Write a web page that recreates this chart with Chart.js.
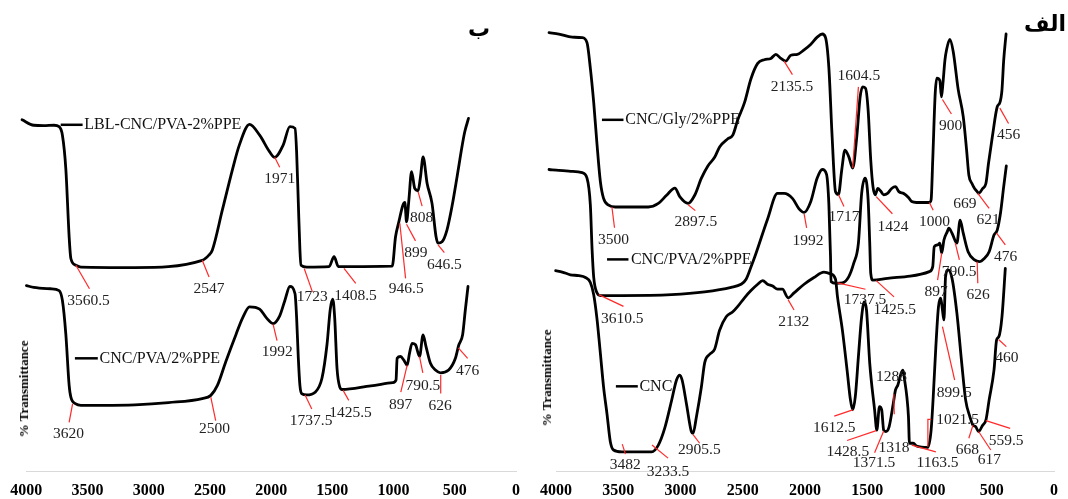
<!DOCTYPE html>
<html>
<head>
<meta charset="utf-8">
<script src="https://cdn.jsdelivr.net/npm/chart.js@4.4.1/dist/chart.umd.min.js"></script>
<style>
  html, body { margin: 0; padding: 0; background: #fff; }
  #wrap { position: relative; width: 1068px; height: 499px; overflow: hidden; }
  canvas { position: absolute; top: 0; }
  #chartB { left: 0; }
  #chartA { left: 530px; }
  .ylab { position: absolute; font: bold 13px 'Liberation Serif', serif; white-space: nowrap;
          transform: translate(-50%, -50%) rotate(-90deg); color: #000; }
  .tag { position: absolute; font: bold 22px 'DejaVu Sans', sans-serif; direction: rtl;
         transform: translate(-50%, -50%); color: #000; }
</style>
</head>
<body>
<div id="wrap">
  <canvas id="chartB" width="530" height="499"></canvas>
  <canvas id="chartA" width="538" height="499"></canvas>
  <div class="ylab" style="left:24px; top:389px">% Transmittance</div>
  <div class="ylab" style="left:547px; top:378px">% Transmittance</div>
  <div class="tag" style="left:479px; top:28px">ب</div>
  <div class="tag" style="left:1045px; top:23px">الف</div>
</div>
<script>
// ---- wavenumber axis ----
const waveTicks = [4000, 3500, 3000, 2500, 2000, 1500, 1000, 500, 0];

// ---- panel ب (left) ----
const lblWave = [4035,3939,3857,3773,3732,3705,3677,3650,3636,3595,3554,3115,2563,2507,2480,2398,2315,2260,2177,2094,2012,1971,1902,1847,1805,1792,1778,1765,1756,1709,1527,1486,1451,1011,984,957,924,908,894,875,853,827,800,780,759,726,686,653,637,604,564,523,468,446,419,388];
const lblT    = [77.9,76.7,76.6,76.7,76.4,74.5,67.0,52.0,47.2,45.7,45.3,45.2,46.8,48.0,49.1,58.0,67.0,72.3,76.9,74.5,70.8,69.6,72.3,76.4,76.0,70.8,59.5,49.1,45.7,45.3,45.4,47.6,45.4,45.5,52.0,55.3,59.0,59.6,55.3,60.2,66.4,62.7,62.2,65.3,69.7,63.8,59.4,52.0,50.6,50.9,53.5,58.7,67.5,71.2,75.2,78.2];

const pvaWave = [3999,3939,3801,3732,3705,3677,3650,3636,3595,3554,3380,3113,2838,2563,2493,2439,2370,2287,2232,2177,2094,2040,1984,1930,1888,1847,1805,1792,1778,1765,1751,1709,1641,1585,1544,1517,1497,1481,1462,1440,1420,1186,1007,980,971,943,916,889,870,849,821,788,759,735,699,658,617,550,495,468,436,414,392];
const pvaT    = [41.2,40.8,40.5,40.1,37.9,30.4,19.1,16.5,15.0,14.7,14.7,14.8,15.3,16.2,16.9,19.1,24.4,30.4,34.1,36.5,36.0,34.1,32.8,34.5,37.9,41.0,39.4,34.1,25.1,19.1,17.3,17.0,17.6,20.7,28.1,36.0,38.2,34.1,22.9,18.8,18.2,19.0,19.7,20.3,25.1,25.5,24.7,23.6,26.2,28.4,28.1,25.5,30.3,27.7,24.0,22.5,21.9,22.5,25.1,28.0,30.3,35.8,41.0];

// ---- panel الف (right) ----
const glyWave = [4056,3977,3870,3790,3751,3724,3697,3671,3644,3618,3577,3524,3259,3178,3112,3045,3006,2939,2886,2832,2780,2726,2686,2620,2580,2540,2486,2434,2380,2327,2274,2234,2194,2154,2114,2061,2007,1955,1902,1861,1835,1808,1782,1755,1731,1705,1679,1648,1617,1584,1557,1537,1514,1493,1472,1454,1436,1415,1394,1368,1337,1304,1273,1246,1207,1169,1143,1104,1001,987,974,954,941,917,904,892,876,863,837,810,770,729,702,684,659,638,617,606,573,547,526,495,456,435,418,404,385];
const glyT    = [97.2,96.9,96.2,96.1,95.0,89.3,81.7,72.6,64.3,60.5,59.0,58.6,58.6,59.4,61.2,62.8,60.9,59.4,61.2,65.0,67.7,69.6,71.9,73.7,74.5,77.9,81.7,87.0,90.4,91.2,91.5,92.4,91.5,90.9,92.2,92.4,93.4,94.6,96.2,96.9,96.1,89.3,74.1,62.0,61.4,66.8,71.2,69.7,67.2,74.2,83.0,85.2,84.9,80.1,69.0,63.1,61.3,62.7,62.2,61.3,61.6,62.7,63.1,62.0,61.6,60.7,59.8,59.6,59.6,60.2,69.0,83.8,87.1,86.6,83.0,86.0,91.1,93.4,95.7,93.1,84.7,78.6,71.2,65.7,63.8,62.7,62.0,61.6,62.7,63.8,68.3,74.2,80.8,81.7,84.5,91.1,96.9];

const pva2Wave = [4056,3977,3870,3790,3751,3724,3710,3697,3671,3644,3471,3072,2806,2593,2514,2473,2434,2394,2301,2221,2168,2101,2048,2007,1955,1902,1861,1827,1808,1795,1791,1752,1700,1648,1609,1571,1545,1518,1493,1480,1472,1454,1337,1156,1001,974,962,935,917,902,884,858,845,819,780,754,729,690,638,599,560,521,482,456,430,404,383];
const pva2T    = [66.9,66.7,66.5,66.2,65.0,59.0,49.1,43.0,39.6,39.0,39.0,39.2,39.8,40.8,41.5,42.6,45.3,48.3,55.9,61.6,61.6,60.5,58.2,57.4,59.7,65.0,66.9,65.8,59.0,47.6,42.1,41.7,41.8,43.2,46.1,50.6,61.6,65.0,60.2,50.6,43.9,42.4,42.8,43.3,44.3,45.4,49.8,50.2,50.6,48.4,51.3,53.1,53.9,52.8,50.6,55.7,52.8,48.7,46.9,46.5,47.2,48.7,52.4,53.5,57.2,63.1,67.7];

const cncWave = [4003,3950,3884,3817,3764,3724,3697,3671,3644,3618,3590,3564,3538,3471,3338,3232,3178,3126,3072,3032,3006,2987,2952,2913,2899,2873,2832,2806,2766,2726,2686,2633,2580,2540,2486,2434,2380,2340,2301,2260,2221,2181,2136,2088,2007,1928,1848,1795,1755,1739,1700,1662,1635,1617,1596,1571,1545,1524,1506,1480,1441,1423,1402,1384,1368,1351,1324,1291,1273,1254,1228,1213,1200,1182,1169,1161,1130,1104,1013,987,970,949,928,910,896,884,871,850,819,780,741,710,676,651,630,606,573,547,521,482,461,443,418,391];
const cncT    = [44.5,44.2,43.6,43.4,43.0,41.9,39.2,33.9,26.3,18.8,12.7,6.7,4.8,4.4,4.4,4.4,5.9,9.7,15.7,20.3,21.4,20.3,15.0,8.9,8.5,12.0,18.8,24.1,26.0,27.1,31.3,34.3,35.4,36.6,38.5,40.1,41.5,42.3,41.5,41.1,40.4,40.4,38.5,39.6,41.5,43.0,44.2,43.8,42.6,38.7,31.4,22.5,15.9,13.7,16.6,25.5,34.3,37.6,35.8,24.0,13.7,9.2,14.4,13.7,9.2,8.9,10.0,15.1,18.1,19.2,21.8,22.5,20.3,16.6,12.2,6.3,6.3,5.7,5.4,9.2,16.6,27.7,36.5,38.4,35.8,33.6,43.2,44.7,42.8,35.1,24.0,15.9,12.2,10.3,10.0,8.9,10.3,11.4,15.9,22.5,29.2,29.9,34.3,45.0];

// series names: [text, line from, line to, text start, level]
const leftNames = [
  ['LBL-CNC/PVA-2%PPE', 3719, 3540, 3526, 76.8],
  ['CNC/PVA/2%PPE', 3603, 3416, 3402, 25.1]
];
const rightNames = [
  ['CNC/Gly/2%PPE', 3631, 3458, 3444, 77.9],
  ['CNC/PVA/2%PPE', 3590, 3418, 3398, 47.0],
  ['CNC', 3519, 3343, 3330, 18.9]
];

// peak labels: [text, red leader (wavenumber, level pairs), text centre]
const leftPeaks = [
  ['3560.5', [[3595,45.7],[3484,40.5]], [3492,37.9]],
  ['2547',   [[2563,46.8],[2507,43.1]], [2507,40.5]],
  ['1971',   [[1971,69.6],[1930,67.4]], [1930,64.8]],
  ['1723',   [[1730,45.0],[1663,39.8]], [1665,38.7]],
  ['1408.5', [[1405,45.0],[1309,41.7]], [1311,39.0]],
  ['946.5',  [[949,55.0],[902,42.8]],   [896,40.4]],
  ['899',    [[894,54.8],[821,51.1]],   [818,48.5]],
  ['808',    [[800,62.0],[767,58.8]],   [770,56.1]],
  ['646.5',  [[637,50.2],[585,48.5]],   [585,45.8]],
  ['3620',   [[3622,15.0],[3650,10.9]], [3655,8.3]],
  ['2500',   [[2493,16.5],[2453,11.3]], [2463,9.4]],
  ['1992',   [[1984,32.6],[1952,29.0]], [1950,26.6]],
  ['1737.5', [[1723,17.0],[1668,13.9]], [1673,11.3]],
  ['1425.5', [[1412,18.0],[1366,15.8]], [1352,13.0]],
  ['897',    [[889,23.6],[941,17.6]],   [943,14.7]],
  ['790.5',  [[788,25.5],[761,21.9]],   [761,19.1]],
  ['626',    [[615,21.4],[615,17.3]],   [619,14.5]],
  ['476',    [[471,27.4],[395,25.1]],   [395,22.3]]
];
const rightPeaks = [
  ['3500',   [[3551,58.6],[3530,54.0]], [3538,51.4]],
  ['2897.5', [[2939,59.1],[2881,57.8]], [2877,55.2]],
  ['2135.5', [[2168,90.9],[2101,87.9]], [2104,85.1]],
  ['1604.5', [[1617,67.2],[1571,85.2]], [1567,87.6]],
  ['1717',   [[1731,61.3],[1687,58.7]], [1687,56.3]],
  ['1424',   [[1428,60.9],[1298,57.1]], [1293,54.2]],
  ['1000',   [[1001,59.6],[970,57.9]],  [959,55.3]],
  ['900',    [[896,82.4],[824,79.2]],   [830,76.5]],
  ['669',    [],                        [715,59.3]],
  ['621',    [[612,61.6],[521,58.3]],   [530,55.7]],
  ['456',    [[435,80.5],[365,77.1]],   [365,74.5]],
  ['3610.5', [[3657,39.2],[3458,36.6]], [3468,33.9]],
  ['1992',   [[2007,57.1],[1987,54.0]], [1975,51.0]],
  ['1737.5', [[1739,41.8],[1514,40.4]], [1518,38.0]],
  ['1425.5', [[1428,42.3],[1285,38.7]], [1279,35.8]],
  ['897',    [[902,48.4],[935,42.4]],   [946,39.8]],
  ['790.5',  [[793,50.6],[760,46.9]],   [762,44.3]],
  ['626',    [[617,46.5],[612,41.7]],   [609,39.1]],
  ['476',    [[461,52.8],[391,50.2]],   [389,47.6]],
  ['3482',   [[3468,6.1],[3442,3.9]],   [3444,1.5]],
  ['3233.5', [[3229,5.9],[3100,3.0]],   [3100,0.0]],
  ['2905.5', [[2899,8.2],[2846,6.3]],   [2848,4.8]],
  ['2132',   [[2136,38.1],[2088,35.8]], [2091,33.2]],
  ['1612.5', [[1617,13.7],[1765,12.3]], [1765,9.6]],
  ['1428.5', [[1428,9.1],[1662,6.9]],   [1656,4.4]],
  ['1371.5', [[1368,9.0],[1441,4.2]],   [1446,1.9]],
  ['1318',   [],                        [1285,5.2]],
  ['1288',   [[1283,12.7],[1287,17.2]], [1306,21.0]],
  ['1163.5', [[1143,5.9],[949,4.4]],    [935,1.9]],
  ['1021.5', [[1013,5.5],[1013,11.6],[987,11.6]], [774,11.4]],
  ['899.5',  [[896,32.1],[798,20.3]],   [801,17.4]],
  ['668',    [[651,10.3],[684,7.4]],    [696,4.8]],
  ['617',    [[606,8.9],[508,4.8]],     [519,2.6]],
  ['559.5',  [[547,11.3],[352,9.6]],    [385,6.9]],
  ['460',    [[443,29.2],[383,27.7]],   [379,25.1]]
];

function toPoints(ws, ts) {
  return ws.map((w, i) => ({ x: w, y: ts[i] }));
}

// red leader lines, peak numbers and series names
const peakLabels = {
  id: 'peakLabels',
  afterDatasetsDraw(chart, args, opts) {
    const { ctx, scales: { x, y } } = chart;
    ctx.save();
    ctx.textBaseline = 'middle';

    opts.names.forEach(([txt, w0, w1, wt, v]) => {
      const py = y.getPixelForValue(v);
      ctx.strokeStyle = '#000';
      ctx.lineWidth = 2.5;
      ctx.beginPath();
      ctx.moveTo(x.getPixelForValue(w0), py);
      ctx.lineTo(x.getPixelForValue(w1), py);
      ctx.stroke();
      ctx.font = '16px "Liberation Serif", serif';
      ctx.textAlign = 'left';
      ctx.fillStyle = '#111';
      ctx.fillText(txt, x.getPixelForValue(wt), py);
    });

    ctx.font = '15.5px "Liberation Serif", serif';
    ctx.textAlign = 'center';
    opts.peaks.forEach(([txt, line, at]) => {
      if (line.length) {
        ctx.strokeStyle = '#ff2a2a';
        ctx.lineWidth = 1.2;
        ctx.beginPath();
        line.forEach(([w, v], i) => {
          const px = x.getPixelForValue(w), py = y.getPixelForValue(v);
          if (i) ctx.lineTo(px, py); else ctx.moveTo(px, py);
        });
        ctx.stroke();
      }
      ctx.fillStyle = '#222';
      ctx.fillText(txt, x.getPixelForValue(at[0]), y.getPixelForValue(at[1]));
    });
    ctx.restore();
  }
};

function buildPanel(id, series, peaks, names, pad) {
  return new Chart(document.getElementById(id), {
    type: 'line',
    data: {
      datasets: series.map(([w, t]) => ({
        data: toPoints(w, t),
        borderColor: '#000',
        borderWidth: 2.8,
        borderJoinStyle: 'round',
        borderCapStyle: 'round',
        pointRadius: 0,
        cubicInterpolationMode: 'monotone',
        fill: false,
        clip: false
      }))
    },
    options: {
      responsive: false,
      animation: false,
      devicePixelRatio: 1,
      layout: { padding: pad },
      plugins: {
        legend: { display: false },
        tooltip: { enabled: false },
        peakLabels: { peaks, names }
      },
      scales: {
        x: {
          type: 'linear',
          reverse: true,
          min: 0,
          max: 4000,
          afterBuildTicks: s => { s.ticks = waveTicks.map(v => ({ value: v })); },
          afterFit: s => { s.height = 27.3; },
          grid: { display: false, drawTicks: false },
          border: { display: true, color: '#d9d9d9', width: 1 },
          ticks: {
            autoSkip: false,
            maxRotation: 0,
            padding: 10,
            color: '#000',
            font: { family: 'Liberation Serif', size: 16, weight: 'bold' },
            callback: v => String(v)
          }
        },
        y: { display: false, min: 0, max: 100 }
      }
    },
    plugins: [peakLabels]
  });
}

buildPanel('chartB', [[lblWave, lblT], [pvaWave, pvaT]], leftPeaks, leftNames,
  { left: 26.3, right: 12.5, top: 20, bottom: 0 });
buildPanel('chartA', [[glyWave, glyT], [pva2Wave, pva2T], [cncWave, cncT]], rightPeaks, rightNames,
  { left: 17.5, right: 6, top: 20, bottom: 0 });
</script>
</body>
</html>
